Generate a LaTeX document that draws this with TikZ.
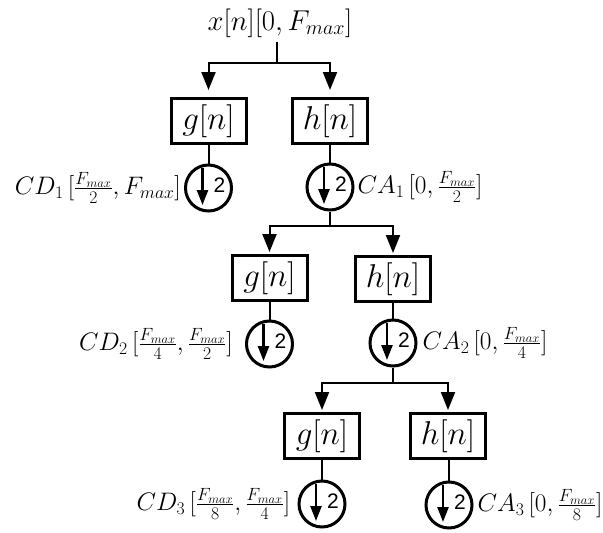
\RequirePackage{fix-cm}
\documentclass[tikz,border=0pt]{standalone}
\usepackage{fontspec}
\newfontfamily\digitfont{Liberation Sans}
\usetikzlibrary{arrows.meta}
\begin{document}
\begin{tikzpicture}[x=1pt,y=-1pt,
  ttl/.style={font=\fontsize{28.7}{34}\selectfont, inner sep=4pt},
  lbl/.style={font=\fontsize{25.3}{30}\selectfont, inner sep=0pt},
  filt/.style={draw, line width=3pt, minimum width=75pt, minimum height=45pt, inner sep=0pt, font=\fontsize{33}{38}\selectfont},
  ds/.style={draw, circle, line width=3pt, minimum size=46pt, inner sep=0pt,
    path picture={
      \draw[line width=2.4pt,-{Triangle[length=15pt,width=11pt]}]
        ([xshift=-6pt,yshift=20pt]path picture bounding box.center) --
        ([xshift=-6pt,yshift=-17pt]path picture bounding box.center);
      \node[font=\digitfont\fontsize{21}{24}\selectfont, inner sep=0pt]
        at ([xshift=11pt,yshift=3pt]path picture bounding box.center) {2};
    }},
  conn/.style={line width=2pt},
  arr/.style={conn, -{Triangle[length=18pt,width=14pt]}},
]
\useasboundingbox (0,0) rectangle (603,533);

% top
\node[ttl] (title) at (280,23) {$x[n][0,F_{max}]$};
\coordinate (j0) at (277,63);

% level 1
\node[filt] (g1) at (208.5,121) {$g[n]$};
\node[filt] (h1) at (330,121) {$h[n]$};
\node[ds] (c1) at (208.5,188) {};
\node[ds] (d1) at (330,187) {};
\coordinate (j1) at (330,226);

% level 2
\node[filt] (g2) at (269.5,278) {$g[n]$};
\node[filt] (h2) at (393,279) {$h[n]$};
\node[ds] (c2) at (269.5,344) {};
\node[ds] (d2) at (393,343) {};
\coordinate (j2) at (393,383);

% level 3
\node[filt] (g3) at (322,436) {$g[n]$};
\node[filt] (h3) at (448,436) {$h[n]$};
\node[ds] (c3) at (322,504) {};
\node[ds] (d3) at (449,505) {};

% labels
\node[lbl, anchor=east] (l1) at ([xshift=-3pt]c1.west) {$CD_1\,[\frac{F_{max}}{2},F_{max}]$};
\node[lbl, anchor=west] (r1) at ([xshift=3pt]d1.east) {$CA_1\,[0,\frac{F_{max}}{2}]$};
\node[lbl, anchor=east] (l2) at ([xshift=-12pt]c2.west) {$CD_2\,[\frac{F_{max}}{4},\frac{F_{max}}{2}]$};
\node[lbl, anchor=west] (r2) at ([xshift=5pt]d2.east) {$CA_2\,[0,\frac{F_{max}}{4}]$};
\node[lbl, anchor=east] (l3) at ([xshift=-7pt]c3.west) {$CD_3\,[\frac{F_{max}}{8},\frac{F_{max}}{4}]$};
\node[lbl, anchor=west] (r3) at ([xshift=4pt]d3.east) {$CA_3\,[0,\frac{F_{max}}{8}]$};

% connectors
\draw[conn] (j0 |- title.south) -- (j0);
\draw[arr, shorten >=7pt] (j0) -| (g1.north);
\draw[arr, shorten >=7pt] (j0) -| (h1.north);
\draw[conn] (g1) -- (c1);
\draw[conn] (h1) -- (d1);
\draw[conn] (d1.south) -- (j1);
\draw[arr, shorten >=2pt] (j1) -| (g2.north);
\draw[arr, shorten >=2pt] (j1) -| (h2.north);
\draw[conn] (g2) -- (c2);
\draw[conn] (h2) -- (d2);
\draw[conn] (d2.south) -- (j2);
\draw[arr, shorten >=2pt] (j2) -| (g3.north);
\draw[arr, shorten >=2pt] (j2) -| (h3.north);
\draw[conn] (g3) -- (c3);
\draw[conn] (h3.south -| d3) -- (d3);
\end{tikzpicture}
\end{document}
